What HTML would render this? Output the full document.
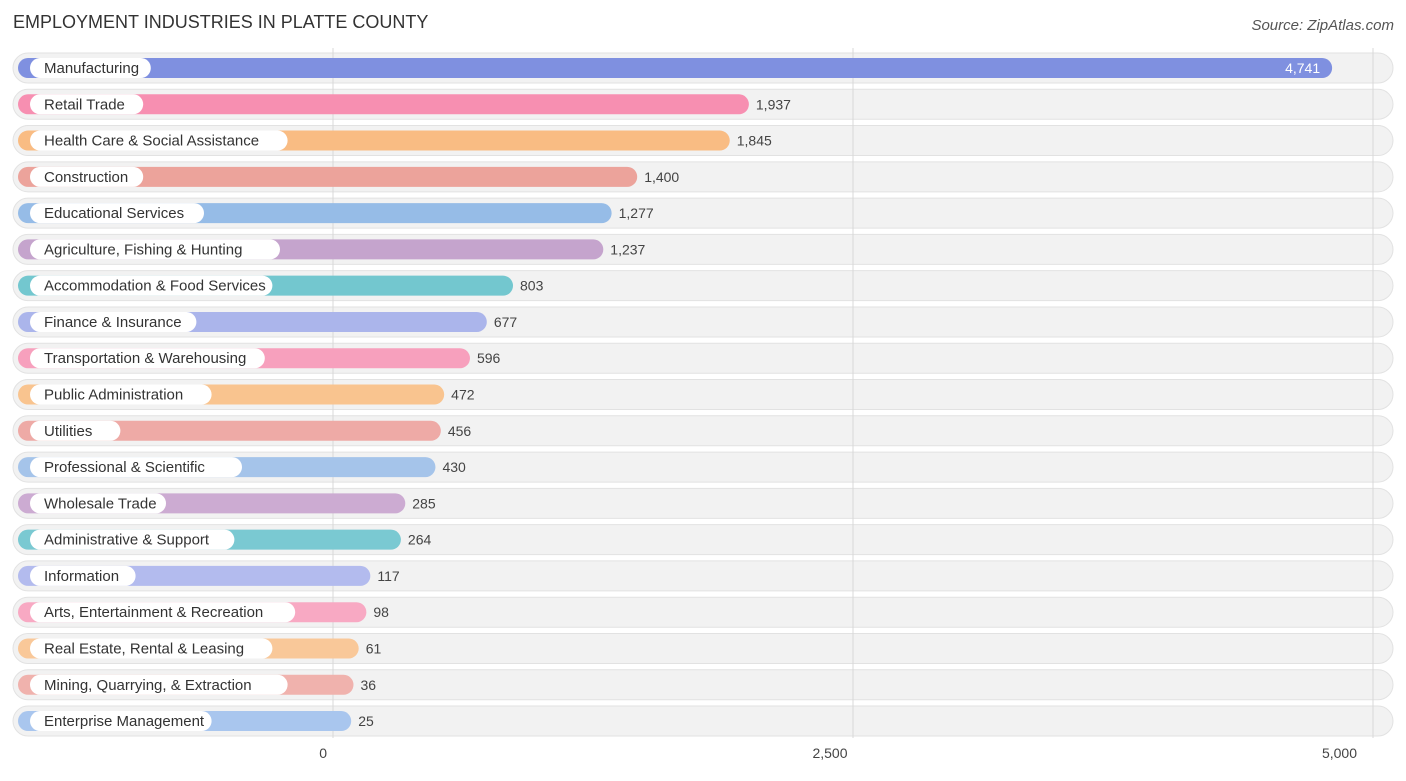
<!DOCTYPE html>
<html><head><meta charset="utf-8"><style>
body{margin:0;background:#fff;font-family:"Liberation Sans",sans-serif;}
</style></head><body>
<svg width="1406" height="776" xmlns="http://www.w3.org/2000/svg" font-family="Liberation Sans, sans-serif">
<text x="13" y="28" font-size="18" fill="#333">EMPLOYMENT INDUSTRIES IN PLATTE COUNTY</text>
<text x="1394" y="30" font-size="15" fill="#555" text-anchor="end" font-style="italic">Source: ZipAtlas.com</text>
<g id="rows"></g>
<g id="axis"></g>
</svg>
<script>
const categories=["Manufacturing","Retail Trade","Health Care & Social Assistance","Construction","Educational Services","Agriculture, Fishing & Hunting","Accommodation & Food Services","Finance & Insurance","Transportation & Warehousing","Public Administration","Utilities","Professional & Scientific","Wholesale Trade","Administrative & Support","Information","Arts, Entertainment & Recreation","Real Estate, Rental & Leasing","Mining, Quarrying, & Extraction","Enterprise Management"];
const values=[4741,1937,1845,1400,1277,1237,803,677,596,472,456,430,285,264,117,98,61,36,25];
const valueLabels=["4,741","1,937","1,845","1,400","1,277","1,237","803","677","596","472","456","430","285","264","117","98","61","36","25"];
const tickValues=[0,2500,5000];
const tickLabels=["0","2,500","5,000"];
const colors=["#7f90e0","#f78fb1","#f9bc83","#eca39b","#96bce7","#c5a4cd","#73c7cf","#abb5eb","#f7a0bd","#f9c48f","#eeaaa6","#a5c4ea","#ccabd2","#7ac9d2","#b3bbee","#f8a9c3","#f9c899","#f0b2ad","#a9c6ee"];
const NS="http://www.w3.org/2000/svg";
const x=v=>346+v*0.208;
const gx=v=>333+v*0.208;
const rowY=i=>68+i*36.28;
function mk(t,a,p){const e=document.createElementNS(NS,t);for(const k in a)e.setAttribute(k,a[k]);p.appendChild(e);return e;}
const rows=document.getElementById('rows'),axis=document.getElementById('axis');
categories.forEach((c,i)=>{
  const y=rowY(i);
  const bg=mk('rect',{x:13,y:y-15,width:1380,height:30,rx:15,fill:'#f2f2f2',stroke:'#e2e2e2'},rows);
  
  
});
tickValues.forEach((t,i)=>{
  const l=mk('line',{x1:gx(t),x2:gx(t),y1:48,y2:738,stroke:'#d8d8d8','stroke-width':1},rows);
  
  
  const tx=mk('text',{x:gx(t),y:758,'font-size':14,fill:'#444','text-anchor':i==0?'end':(i==2?'end':'middle'),dx:i==0?-6:(i==2?-16:-23)},axis);
  tx.textContent=tickLabels[i];
  
  
});
categories.forEach((c,i)=>{
  const y=rowY(i);
  const b=mk('rect',{x:18,y:y-10,width:x(values[i])-18,height:20,rx:10,fill:colors[i]},rows);
  
  
  const lw=c.length*7.6+22;
  const p=mk('rect',{x:30,y:y-10,width:lw,height:20,rx:10,fill:'#fff'},rows);
  
  
  const t=mk('text',{x:44,y:y+5,'font-size':15,fill:'#333'},rows);
  t.textContent=c;
  
  
  const inside=values[i]>4000;
  const v=mk('text',{x:inside?x(values[i])-12:x(values[i])+7,y:y+5,'font-size':14,fill:inside?'#fff':'#444','text-anchor':inside?'end':'start'},rows);
  v.textContent=valueLabels[i];
  
  
});
</script>
</body></html>
